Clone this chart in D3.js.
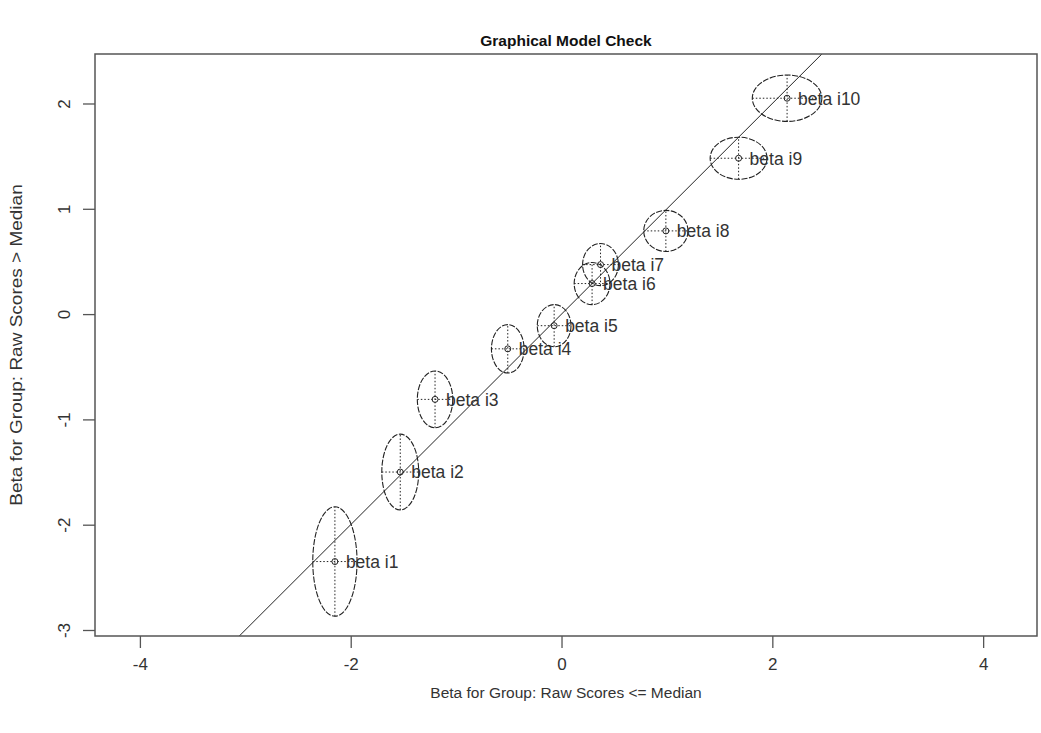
<!DOCTYPE html>
<html>
<head>
<meta charset="utf-8">
<script src="https://cdn.jsdelivr.net/npm/d3@7/dist/d3.min.js"></script>
<style>
  body { margin: 0; background: #fff; }
  svg text { font-family: "Liberation Sans", Arial, sans-serif; fill: #2a2a2a; }
</style>
</head>
<body>
<svg id="chart" width="1041" height="733"></svg>
<script>
// Item difficulty estimates in the two groups and their confidence half-widths
const items  = ["beta i1", "beta i2", "beta i3", "beta i4", "beta i5",
                "beta i6", "beta i7", "beta i8", "beta i9", "beta i10"];
const betaLow  = [-2.15, -1.53, -1.20, -0.51, -0.07, 0.29, 0.37, 0.99, 1.68, 2.14];
const betaHigh = [-2.35, -1.50, -0.81, -0.33, -0.11, 0.29, 0.47, 0.79, 1.48, 2.05];
const ciLow    = [0.21, 0.175, 0.168, 0.155, 0.16, 0.17, 0.17, 0.21, 0.27, 0.33];
const ciHigh   = [0.52, 0.36, 0.27, 0.23, 0.20, 0.20, 0.20, 0.195, 0.20, 0.22];
const xTicks = [-4, -2, 0, 2, 4];
const yTicks = [-3, -2, -1, 0, 1, 2];

const svg = d3.select("#chart");
const plotL = 95, plotR = 1037, plotT = 54, plotB = 636;

const x = d3.scaleLinear().domain([-4.426, 4.511]).range([plotL, plotR]);
const y = d3.scaleLinear().domain([-3.057, 2.470]).range([plotB, plotT]);

// clip for the identity line
svg.append("clipPath").attr("id", "plotclip")
  .append("rect").attr("x", plotL).attr("y", plotT)
  .attr("width", plotR - plotL).attr("height", plotB - plotT);

// title
svg.append("text").attr("x", (plotL + plotR) / 2).attr("y", 46)
  .attr("text-anchor", "middle").style("font-weight", "bold").style("font-size", "15.5px")
  .style("fill", "#111")
  .text("Graphical Model Check");

// axes
const xAxis = d3.axisBottom(x).tickValues(xTicks).tickSize(12).tickPadding(10)
  .tickFormat(d => String(d));
const gx = svg.append("g").attr("transform", `translate(0,${plotB})`).call(xAxis);
gx.select(".domain").remove();
gx.selectAll("line").attr("stroke", "#555").attr("stroke-width", 1.3);
gx.selectAll("text").style("font-size", "17px").style("fill", "#333");

const yAxis = d3.axisLeft(y).tickValues(yTicks).tickSize(12).tickPadding(0)
  .tickFormat(d => String(d));
const gy = svg.append("g").attr("transform", `translate(${plotL},0)`).call(yAxis);
gy.select(".domain").remove();
gy.selectAll("line").attr("stroke", "#555").attr("stroke-width", 1.3);
gy.selectAll("text")
  .attr("x", 0).attr("y", 0).attr("dy", "0.35em")
  .attr("text-anchor", "middle")
  .attr("transform", "translate(-31,0) rotate(-90)")
  .style("font-size", "17px").style("fill", "#333");

// axis titles
svg.append("text").attr("x", (plotL + plotR) / 2).attr("y", 698)
  .attr("text-anchor", "middle").style("font-size", "15.5px").style("fill", "#333")
  .text("Beta for Group: Raw Scores <= Median");
svg.append("text")
  .attr("transform", `translate(22,${(plotT + plotB) / 2}) scale(0.85,1) rotate(-90)`)
  .attr("text-anchor", "middle").style("font-size", "19px").style("fill", "#333")
  .text("Beta for Group: Raw Scores > Median");

// identity line
svg.append("line").attr("clip-path", "url(#plotclip)")
  .attr("x1", x(-5)).attr("y1", y(-5)).attr("x2", x(5)).attr("y2", y(5))
  .attr("stroke", "#222").attr("stroke-width", 1);

const data = items.map((name, i) => ({
  name, bx: betaLow[i], by: betaHigh[i], rx: ciLow[i], ry: ciHigh[i]
}));

const g = svg.append("g");
const item = g.selectAll("g.item").data(data).join("g").attr("class", "item");

// confidence ellipses
item.append("ellipse")
  .attr("cx", d => x(d.bx)).attr("cy", d => y(d.by))
  .attr("rx", d => x(d.bx + d.rx) - x(d.bx))
  .attr("ry", d => y(d.by) - y(d.by + d.ry))
  .attr("fill", "none").attr("stroke", "#222").attr("stroke-width", 1.1)
  .attr("stroke-dasharray", "6,1.5");

// dotted crosshairs
item.append("line")
  .attr("x1", d => x(d.bx - d.rx)).attr("x2", d => x(d.bx + d.rx))
  .attr("y1", d => y(d.by)).attr("y2", d => y(d.by))
  .attr("stroke", "#222").attr("stroke-width", 1).attr("stroke-dasharray", "1.5,2");
item.append("line")
  .attr("x1", d => x(d.bx)).attr("x2", d => x(d.bx))
  .attr("y1", d => y(d.by - d.ry)).attr("y2", d => y(d.by + d.ry))
  .attr("stroke", "#222").attr("stroke-width", 1).attr("stroke-dasharray", "1.5,2");

// point markers
item.append("circle")
  .attr("cx", d => x(d.bx)).attr("cy", d => y(d.by)).attr("r", 3)
  .attr("fill", "none").attr("stroke", "#222").attr("stroke-width", 1);

// item labels
item.append("text")
  .attr("x", d => x(d.bx) + 11).attr("y", d => y(d.by)).attr("dy", "0.36em")
  .style("font-size", "17.5px").style("fill", "#333")
  .text(d => d.name);

// plot frame
svg.append("rect").attr("x", plotL).attr("y", plotT)
  .attr("width", plotR - plotL).attr("height", plotB - plotT)
  .attr("fill", "none").attr("stroke", "#555").attr("stroke-width", 1.5);
</script>
</body>
</html>
